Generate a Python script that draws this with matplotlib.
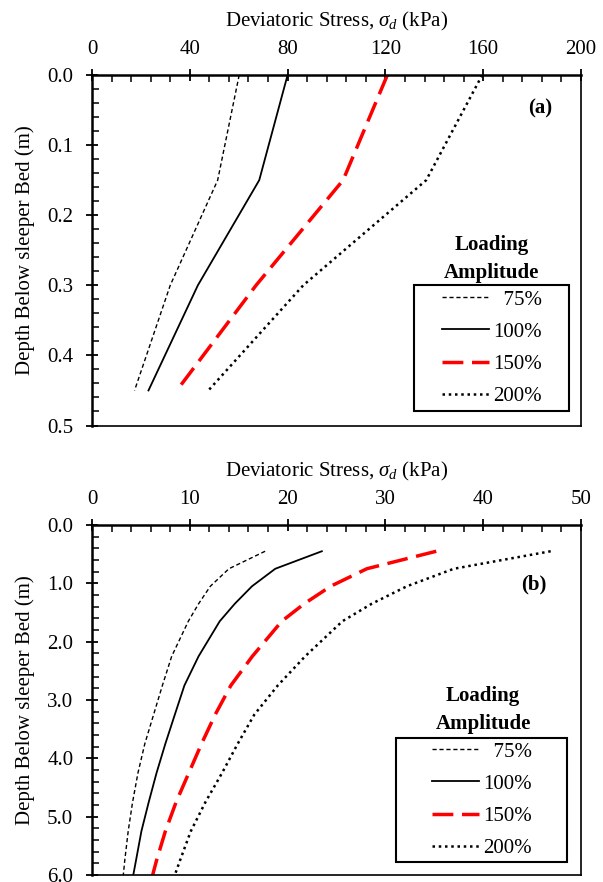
import matplotlib
matplotlib.use('Agg')
import matplotlib.pyplot as plt
from matplotlib.ticker import MultipleLocator, FormatStrFormatter
from matplotlib.patches import Rectangle

plt.rcParams['font.family'] = ['Liberation Serif', 'DejaVu Serif']
plt.rcParams['mathtext.fontset'] = 'custom'
plt.rcParams['mathtext.rm'] = 'Liberation Serif'
plt.rcParams['mathtext.it'] = 'Liberation Serif:italic'
plt.rcParams['mathtext.bf'] = 'Liberation Serif:bold'

# ---------------- data ----------------
legend_labels = ['  75%', '100%', '150%', '200%']

depth_a = [0.0, 0.15, 0.30, 0.45]
stress_a_75 = [60.2, 51.4, 32.0, 17.4]
stress_a_100 = [80.0, 68.4, 43.3, 23.1]
stress_a_150 = [120.8, 102.7, 67.1, 34.7]
stress_a_200 = [159.6, 136.7, 86.4, 47.6]

depth_b = [0.45, 0.75, 1.05, 1.35, 1.65, 2.25, 2.75, 3.25, 3.75, 4.25, 4.75, 5.25, 5.75, 6.0]
stress_b_75 = [17.7, 14.0, 12.1, 10.9, 9.85, 8.15, 7.2, 6.3, 5.4, 4.7, 4.15, 3.7, 3.35, 3.2]
stress_b_100 = [23.5, 18.74, 16.36, 14.6, 13.06, 10.9, 9.45, 8.47, 7.5, 6.6, 5.8, 5.05, 4.5, 4.22]
stress_b_150 = [35.2, 28.1, 24.4, 21.7, 19.4, 16.4, 14.2, 12.6, 11.2, 9.9, 8.6, 7.5, 6.6, 6.2]
stress_b_200 = [46.9, 37.0, 32.2, 28.6, 25.6, 21.8, 19.0, 16.6, 14.9, 13.3, 11.6, 10.1, 9.0, 8.47]

x_ticks_a = [0, 40, 80, 120, 160, 200]
x_ticks_b = [0, 10, 20, 30, 40, 50]

# ---------------- styles ----------------
styles = [
    dict(color='black', lw=1.0, ls=(0, (3, 2))),
    dict(color='black', lw=1.3, ls='-'),
    dict(color='red', lw=2.5, ls=(0, (6, 2.5))),
    dict(color='black', lw=1.8, ls=(0, (1, 1.5))),
]

FS = 15

fig = plt.figure(figsize=(6.03, 8.82), dpi=100)
W, H = 603, 882


def make_ax(top_px, bottom_px):
    left, right = 92, 581
    return fig.add_axes([left / W, 1 - bottom_px / H, (right - left) / W,
                         (bottom_px - top_px) / H])


ax_a = make_ax(75, 425.5)
ax_b = make_ax(525, 875)


def style_axes(ax, xmax, xminor, ymax, ymajor, yminor, xticks):
    ax.set_xlim(0, xmax)
    ax.set_ylim(ymax, 0)
    ax.xaxis.tick_top()
    ax.xaxis.set_label_position('top')
    ax.set_xticks(xticks)
    ax.xaxis.set_minor_locator(MultipleLocator(xminor))
    ax.yaxis.set_major_locator(MultipleLocator(ymajor))
    ax.yaxis.set_minor_locator(MultipleLocator(yminor))
    ax.yaxis.set_major_formatter(FormatStrFormatter('%.1f'))
    ax.tick_params(which='major', direction='inout', length=9, width=1.3,
                   labelsize=FS, pad=7)
    ax.tick_params(which='minor', direction='in', length=5, width=1.1)
    ax.tick_params(axis='y', which='major', pad=9)
    ax.set_xlabel(r'Deviatoric Stress, $\sigma_d$ (kPa)', fontsize=FS, labelpad=10)
    ax.set_ylabel('Depth Below sleeper Bed (m)', fontsize=FS, labelpad=9)
    ax.spines['top'].set_linewidth(1.8)
    ax.spines['left'].set_linewidth(1.8)
    ax.spines['right'].set_linewidth(1.2)
    ax.spines['bottom'].set_linewidth(1.2)


style_axes(ax_a, 200, 8, 0.5, 0.1, 0.02, x_ticks_a)
style_axes(ax_b, 50, 2, 6.0, 1.0, 0.2, x_ticks_b)

series_a = [stress_a_75, stress_a_100, stress_a_150, stress_a_200]
series_b = [stress_b_75, stress_b_100, stress_b_150, stress_b_200]

for vals, lab, st in zip(series_a, legend_labels, styles):
    ax_a.plot(vals, depth_a, label=lab, color=st['color'], lw=st['lw'],
              linestyle=st['ls'], dash_capstyle='butt')
for vals, lab, st in zip(series_b, legend_labels, styles):
    ax_b.plot(vals, depth_b, label=lab, color=st['color'], lw=st['lw'],
              linestyle=st['ls'], dash_capstyle='butt')


def add_legend(ax, handle_x, center_y, box, title_x, title_y1, title_y2, tag_xy, tag):
    leg = ax.legend(loc='center left', bbox_to_anchor=(handle_x, center_y),
                    frameon=False, fontsize=FS, handlelength=2.25,
                    handletextpad=0.2, labelspacing=0.6, borderpad=0,
                    borderaxespad=0)
    x0, y0, x1, y1 = box
    ax.add_patch(Rectangle((x0, y0), x1 - x0, y1 - y0, transform=ax.transAxes,
                           fill=False, edgecolor='black', lw=1.5, zorder=5))
    ax.text(title_x, title_y1, 'Loading', transform=ax.transAxes, ha='center',
            va='center', fontsize=FS, fontweight='bold')
    ax.text(title_x, title_y2, 'Amplitude', transform=ax.transAxes, ha='center',
            va='center', fontsize=FS, fontweight='bold')
    ax.text(tag_xy[0], tag_xy[1], tag, transform=ax.transAxes, ha='center',
            va='center', fontsize=FS, fontweight='bold')
    return leg


add_legend(ax_a, 0.7151, 0.221, (0.6585, 0.0414, 0.9755, 0.4009),
           0.817, 0.515, 0.436, (0.916, 0.905), '(a)')
add_legend(ax_b, 0.6947, 0.2143, (0.6217, 0.038, 0.972, 0.3906),
           0.800, 0.510, 0.430, (0.9025, 0.829), '(b)')

fig.savefig('out.png', dpi=100)
